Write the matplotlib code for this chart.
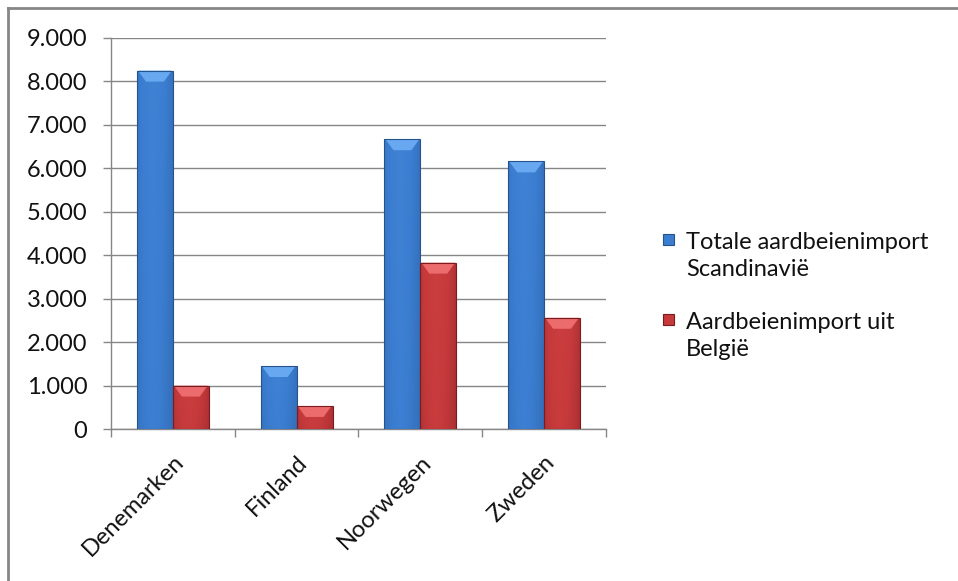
import numpy as np
import matplotlib
matplotlib.use("Agg")
import matplotlib.pyplot as plt
from matplotlib.patches import Polygon, Rectangle
from matplotlib.lines import Line2D
from matplotlib.ticker import FuncFormatter, FixedLocator
from matplotlib.colors import LinearSegmentedColormap

plt.rcParams['font.family'] = ['Lato', 'DejaVu Sans']

categories = ["Denemarken", "Finland", "Noorwegen", "Zweden"]
series_names = ["Totale aardbeienimport\nScandinavië", "Aardbeienimport uit\nBelgië"]
totaal = [8250, 1450, 6670, 6160]
belgie = [1000, 530, 3830, 2560]
yticks = [0, 1000, 2000, 3000, 4000, 5000, 6000, 7000, 8000, 9000]

W, H, DPI = 958, 581, 100
FS = 17
fig = plt.figure(figsize=(W / DPI, H / DPI), dpi=DPI)
ax = fig.add_axes([111 / W, 1 - 429 / H, (606 - 111) / W, (429 - 38) / H])

x = np.arange(len(categories))
bw = 0.29
styles = [
    dict(dark="#25548c", mid="#3b7dd0", light="#4f8fdf", top="#68a8f0"),
    dict(dark="#7a1c1f", mid="#c63a3c", light="#d64a4c", top="#ec6c6e"),
]

ax.set_xlim(-0.5, len(categories) - 0.5)
ax.set_ylim(0, 9000)

all_bars = []
for i, (vals, st) in enumerate(zip([totaal, belgie], styles)):
    bars = ax.bar(x + (i - 0.5) * bw, vals, width=bw, color=st["mid"],
                  edgecolor="none", zorder=3)
    all_bars.append((bars, st))

# gradient fill for bars
grad = np.linspace(0, 1, 64)
hprof = np.clip(1 - np.abs(grad - 0.45) * 1.4, 0, 1) ** 0.35
for bars, st in all_bars:
    cmap = LinearSegmentedColormap.from_list("c", [st["dark"], st["mid"], st["light"]])
    for b in bars:
        x0, y0 = b.get_x(), b.get_y()
        w, h = b.get_width(), b.get_height()
        vprof = np.linspace(0.88, 1.0, 32)[:, None]
        img = (hprof[None, :] * 0.62) * vprof
        im = ax.imshow(img, cmap=cmap, vmin=0, vmax=1, aspect="auto",
                       extent=(x0, x0 + w, y0, y0 + h), origin="lower",
                       zorder=3.1, interpolation="bilinear")
        im.set_clip_path(b)
        # bevel at top (computed in pixel space from the bar's data corners)
        (px0, py0), (px1, py1) = ax.transData.transform([(x0, y0), (x0 + w, y0 + h)])
        bev = min(11, (py1 - py0) * 0.5)
        inset = 9
        poly = Polygon([(px0 + 1, py1), (px1 - 1, py1), (px1 - inset, py1 - bev),
                        (px0 + inset, py1 - bev)], closed=True,
                       facecolor=st["top"], edgecolor="none", transform=None,
                       zorder=3.2)
        ax.add_patch(poly)
        ax.add_patch(Rectangle((x0, y0), w, h, fill=False,
                               edgecolor=st["dark"], lw=0.8, zorder=3.3))

# axes styling
ax.set_xticks(x)
ax.set_xticklabels(categories, rotation=45, ha="right", va="top",
                   rotation_mode="anchor", fontsize=FS, color="#111111")
ax.tick_params(axis="x", which="major", length=0, pad=16)
ax.xaxis.set_minor_locator(FixedLocator(np.arange(-0.5, len(categories), 1.0)))
ax.tick_params(axis="x", which="minor", length=6, color="#868686", width=1)

ax.set_yticks(yticks)
ax.yaxis.set_major_formatter(FuncFormatter(lambda v, p: f"{int(v):,}".replace(",", ".")))
ax.tick_params(axis="y", length=6, color="#868686", width=1, labelsize=FS,
               pad=11, labelcolor="#111111")
ax.grid(axis="y", color="#868686", lw=1, zorder=0)
ax.set_axisbelow(True)
for s in ["top", "right"]:
    ax.spines[s].set_visible(False)
for s in ["left", "bottom"]:
    ax.spines[s].set_color("#868686")
    ax.spines[s].set_linewidth(1)

# legend (drawn manually so markers align with the first text line)
leg_y = [240, 320]
for name, st, yy in zip(series_names, styles, leg_y):
    fig.add_artist(Rectangle((663 / W, 1 - (yy + 5) / H), 11 / W, 11 / H,
                             facecolor=st["mid"], edgecolor=st["dark"], lw=0.8,
                             transform=fig.transFigure))
    fig.text(686 / W, 1 - (yy + 16) / H, name, fontsize=FS, va="center",
             ha="left", linespacing=1.36, color="#111111")

# outer frame (top and left edges)
fig.add_artist(Line2D([8 / W, 8 / W], [0, 1 - 8 / H], color="#868686", lw=2,
                      transform=fig.transFigure))
fig.add_artist(Line2D([8 / W, 1], [1 - 8 / H, 1 - 8 / H], color="#868686", lw=2,
                      transform=fig.transFigure))

fig.savefig("out.png", dpi=DPI)
